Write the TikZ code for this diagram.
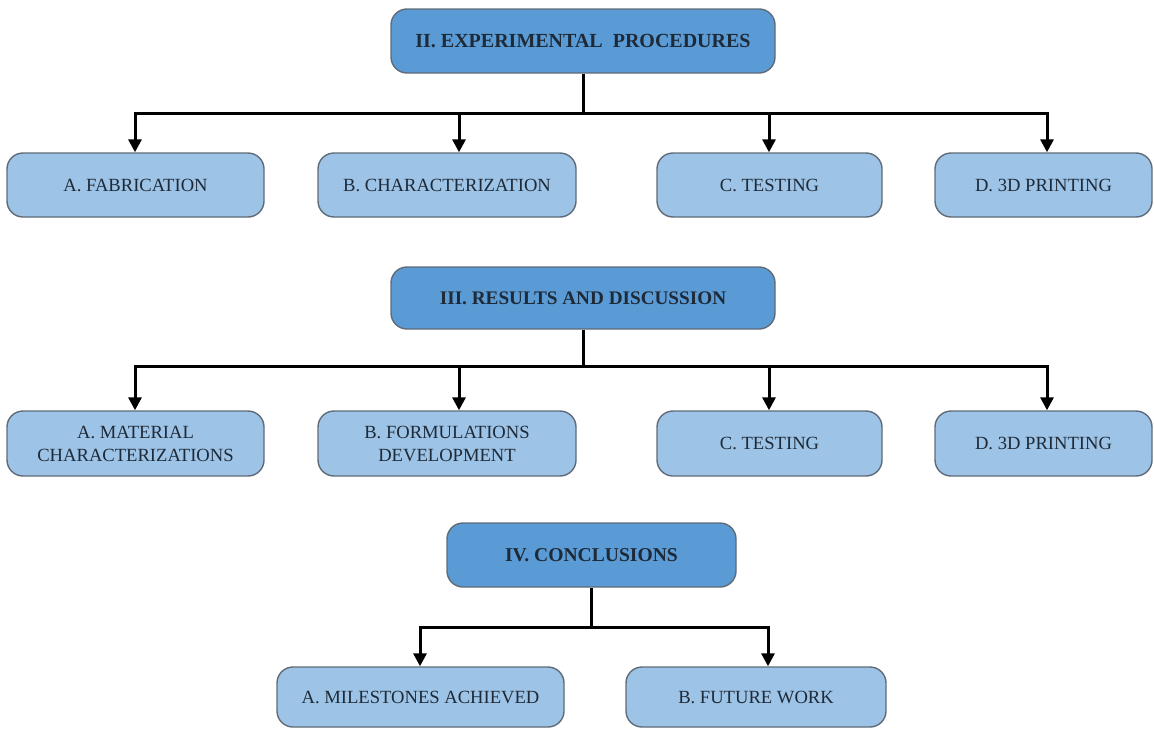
\documentclass[tikz,border=0pt]{standalone}
\usepackage{fontspec}
\setmainfont{Liberation Serif}
\usetikzlibrary{arrows.meta}
\definecolor{headfill}{HTML}{5B9BD5}
\definecolor{subfill}{HTML}{9DC3E6}
\definecolor{boxline}{HTML}{5F6B78}
\definecolor{txt}{HTML}{1E2A38}
\tikzset{
  boxbase/.style={draw=boxline, line width=0.7pt, rounded corners=8pt, align=center, text=txt, inner sep=2pt},
  headbox/.style={boxbase, fill=headfill, font=\fontsize{10}{12}\selectfont\bfseries},
  subbox/.style={boxbase, fill=subfill, font=\fontsize{9.3}{11.5}\selectfont},
  conn/.style={line width=1.5pt, black},
  arr/.style={conn, -{Triangle[width=6.5pt,length=6.5pt]}}
}
\begin{document}
\begin{tikzpicture}[x=0.5pt, y=-0.5pt]
\useasboundingbox (0,0) rectangle (1154,728);
% Section II
\node[headbox, minimum width=192pt, minimum height=32pt] (II) at (583,41) {II. EXPERIMENTAL\ \ PROCEDURES};
\node[subbox, minimum width=128.5pt, minimum height=32pt] (A1) at (135.5,185) {A. FABRICATION};
\node[subbox, minimum width=129pt, minimum height=32pt] (B1) at (447,185) {B. CHARACTERIZATION};
\node[subbox, minimum width=112.5pt, minimum height=32pt] (C1) at (769.5,185) {C. TESTING};
\node[subbox, minimum width=108.5pt, minimum height=32pt] (D1) at (1043.5,185) {D. 3D PRINTING};
% Section III
\node[headbox, font=\fontsize{9.6}{12}\selectfont\bfseries, minimum width=192pt, minimum height=31pt] (III) at (583,298) {III. RESULTS AND DISCUSSION};
\node[subbox, minimum width=128.5pt, minimum height=32.5pt] (A2) at (135.5,443.5) {A. MATERIAL\\CHARACTERIZATIONS};
\node[subbox, minimum width=129pt, minimum height=32.5pt] (B2) at (447,443.5) {B. FORMULATIONS\\DEVELOPMENT};
\node[subbox, minimum width=112.5pt, minimum height=32.5pt] (C2) at (769.5,443.5) {C. TESTING};
\node[subbox, minimum width=108.5pt, minimum height=32.5pt] (D2) at (1043.5,443.5) {D. 3D PRINTING};
% Section IV
\node[headbox, font=\fontsize{9.8}{12}\selectfont\bfseries, minimum width=144.5pt, minimum height=32pt] (IV) at (591.5,555) {IV. CONCLUSIONS};
\node[subbox, minimum width=143.5pt, minimum height=30pt] (A3) at (420.5,697) {A. MILESTONES ACHIEVED};
\node[subbox, minimum width=130pt, minimum height=30pt] (B3) at (756,697) {B. FUTURE WORK};
% arrow x positions
\coordinate (xa) at (135,0);
\coordinate (xb) at (459,0);
\coordinate (xc) at (769,0);
\coordinate (xd) at (1047,0);
\coordinate (xe) at (420,0);
\coordinate (xf) at (768,0);
% junctions
\coordinate (j1) at (583,113);
\coordinate (j2) at (583,366);
\coordinate (j3) at (591.5,627);
% connectors II
\draw[conn] (II.south) -- (j1);
\draw[arr] (j1) -| (A1.north -| xa);
\draw[arr] (j1) -| (B1.north -| xb);
\draw[arr] (j1) -| (C1.north -| xc);
\draw[arr] (j1) -| (D1.north -| xd);
% connectors III
\draw[conn] (III.south) -- (j2);
\draw[arr] (j2) -| (A2.north -| xa);
\draw[arr] (j2) -| (B2.north -| xb);
\draw[arr] (j2) -| (C2.north -| xc);
\draw[arr] (j2) -| (D2.north -| xd);
% connectors IV
\draw[conn] (IV.south) -- (j3);
\draw[arr] (j3) -| (A3.north -| xe);
\draw[arr] (j3) -| (B3.north -| xf);
\end{tikzpicture}
\end{document}
